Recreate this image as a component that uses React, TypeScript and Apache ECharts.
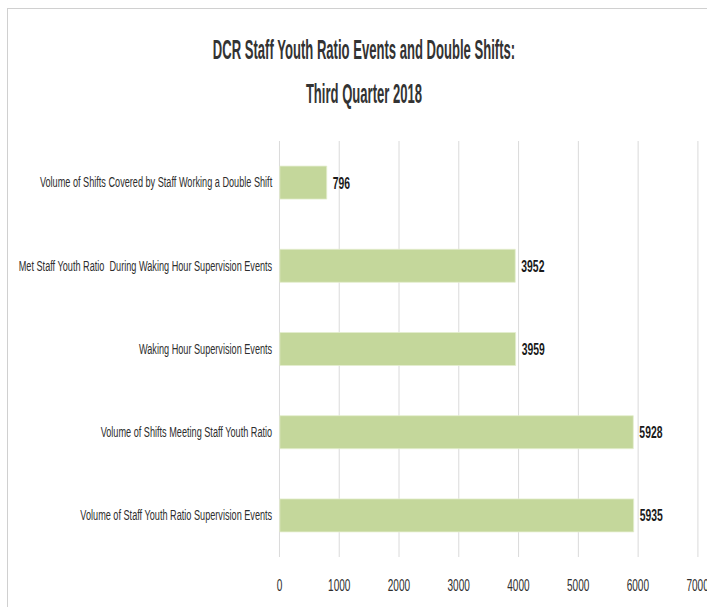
import React, { useEffect, useRef } from "react";
import * as echarts from "echarts";

const categories: string[] = [
  "Volume of Shifts Covered by Staff Working a Double Shift",
  "Met Staff Youth Ratio  During Waking Hour Supervision Events",
  "Waking Hour Supervision Events",
  "Volume of Shifts Meeting Staff Youth Ratio",
  "Volume of Staff Youth Ratio Supervision Events",
];
const values: number[] = [796, 3952, 3959, 5928, 5935];
const titleLines: string[] = [
  "DCR Staff Youth Ratio Events and Double Shifts:",
  "Third Quarter 2018",
];
const axisMin = 0;
const axisMax = 7000;
const axisStep = 1000;

const SX = 0.61;
const INNER_W = 699;
const INNER_H = 598;
const CHART_W = Math.round(INNER_W / SX);

const REG = "'Liberation Sans', Arial, sans-serif";

export default function App() {
  const ref = useRef<HTMLDivElement>(null);
  useEffect(() => {
    if (!ref.current) return;
    const chart = echarts.init(ref.current, undefined, { renderer: "svg" });
    const tx = (px: number) => (px - 8) / SX;
    const titleStyle = {
      font: `bold 27px ${REG}`,
      fill: "#333333",
      align: "center",
      verticalAlign: "middle",
    };
    chart.setOption({
      animation: false,
      backgroundColor: "#ffffff",
      graphic: [
        {
          type: "text",
          x: tx(364),
          y: 40,
          scaleX: 0.794,
          style: { ...titleStyle, text: titleLines[0] },
        },
        {
          type: "text",
          x: tx(364),
          y: 84.5,
          scaleX: 0.794,
          style: { ...titleStyle, text: titleLines[1] },
        },
      ],
      grid: {
        left: tx(279.5),
        right: CHART_W - tx(697.6),
        top: 132,
        bottom: INNER_H - 548,
        containLabel: false,
        outerBoundsMode: "none",
      },
      xAxis: {
        type: "value",
        min: axisMin,
        max: axisMax,
        interval: axisStep,
        axisLine: { show: false },
        axisTick: { show: false },
        splitLine: { show: true, lineStyle: { color: "#d9d9d9", width: 1.6 } },
        axisLabel: {
          margin: 20,
          fontFamily: REG,
          fontSize: 16.5,
          color: "#2e2e2e",
          formatter: (v: number) => String(v),
        },
      },
      yAxis: {
        type: "category",
        inverse: true,
        data: categories,
        axisLine: { show: false },
        axisTick: { show: false },
        splitLine: { show: false },
        axisLabel: {
          margin: 12,
          fontFamily: REG,
          fontSize: 15,
          color: "#2e2e2e",
        },
      },
      series: [
        {
          type: "bar",
          data: values,
          barWidth: 34,
          itemStyle: { color: "#c4d79b", borderColor: "#e4edcf", borderWidth: 1 },
          label: {
            show: true,
            position: "right",
            distance: 9.5,
            fontFamily: REG,
            fontWeight: "bold",
            fontSize: 17,
            color: "#1a1a1a",
          },
        },
      ],
    });
    return () => chart.dispose();
  }, []);

  return (
    <div
      style={{
        position: "fixed",
        left: 7,
        top: 8,
        width: 700,
        height: INNER_H + 1,
        borderTop: "1px solid #d0d0d0",
        borderLeft: "1px solid #d0d0d0",
        boxSizing: "border-box",
        overflow: "hidden",
        background: "#fff",
      }}
    >
      <div
        ref={ref}
        style={{
          width: CHART_W,
          height: INNER_H,
          transform: `scaleX(${SX})`,
          transformOrigin: "0 0",
        }}
      />
    </div>
  );
}
